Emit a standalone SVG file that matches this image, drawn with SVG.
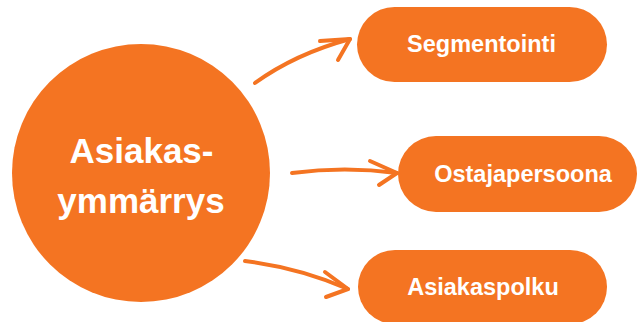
<svg xmlns="http://www.w3.org/2000/svg" width="638" height="322" viewBox="0 0 638 322">
<style>
.shape{fill:#F47422}
.lbl{fill:#FFFFFF;font-family:"Liberation Sans",Arial,sans-serif;font-weight:bold;text-anchor:middle}
.big{font-size:35px}
.small{font-size:23.5px}
.con{fill:none;stroke:#F47422;stroke-width:4;stroke-linecap:round;stroke-linejoin:round}
</style>
<rect width="638" height="322" fill="#FFFFFF"/>
<g id="connectors">
<path class="con" d="M255,83 Q295,54 350,39"/>
<path class="con" d="M320,41 L350,39 L338,60"/>
<path class="con" d="M292,173 Q345,166 397,173"/>
<path class="con" d="M370,161 L397,173 L379,185"/>
<path class="con" d="M245,261 Q300,268 348,289"/>
<path class="con" d="M325,272 L348,289 L326,297"/>
</g>
<g id="node-asiakasymmarrys">
<circle class="shape" cx="141" cy="173" r="129"/>
<text class="lbl big" x="141.5" y="163">Asiakas-</text>
<text class="lbl big" x="141" y="213">ymmärrys</text>
</g>
<g id="node-segmentointi">
<rect class="shape" x="357" y="7" width="250" height="75" rx="37.5"/>
<text class="lbl small" x="481.5" y="52">Segmentointi</text>
</g>
<g id="node-ostajapersoona">
<rect class="shape" x="398" y="136" width="239" height="76" rx="38"/>
<text class="lbl small" x="523" y="182">Ostajapersoona</text>
</g>
<g id="node-asiakaspolku">
<rect class="shape" x="358" y="250" width="249" height="74" rx="37"/>
<text class="lbl small" x="483" y="295">Asiakaspolku</text>
</g>
</svg>
